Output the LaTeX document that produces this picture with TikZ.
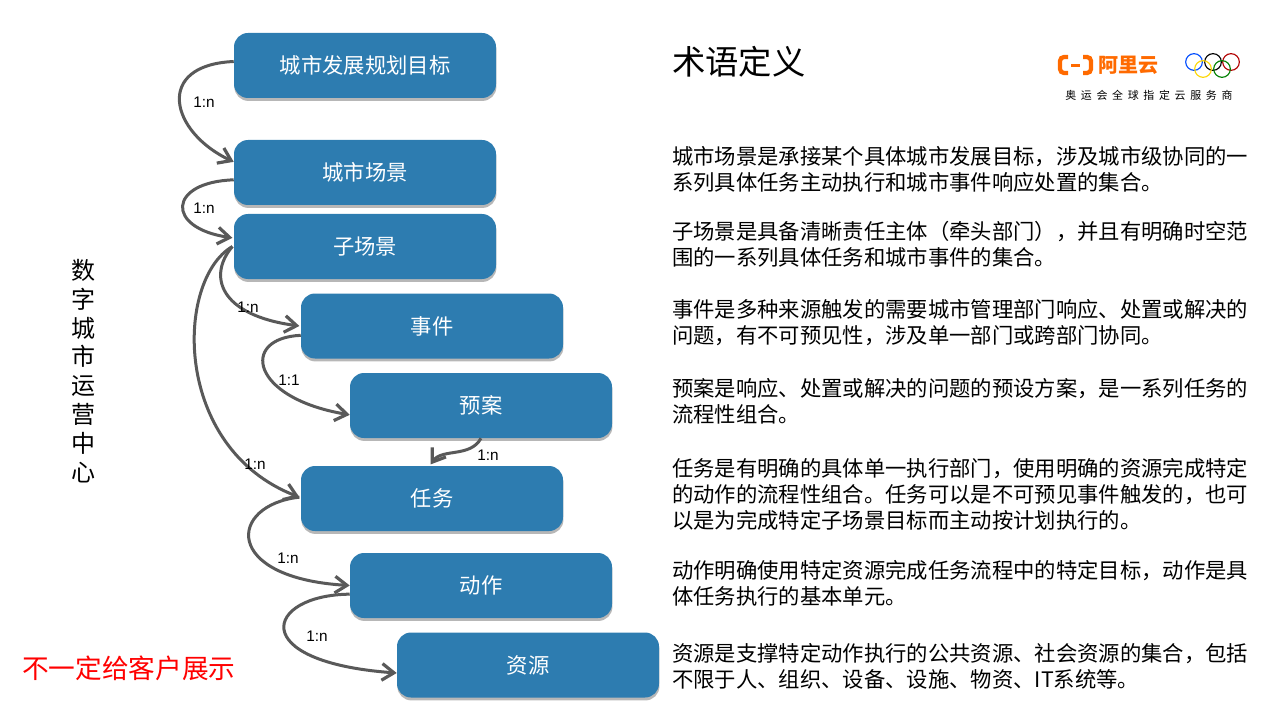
\documentclass[tikz,border=0pt]{standalone}
\usepackage{fontspec}
\setmainfont{Noto Sans CJK SC}
\newfontfamily\latinf{Liberation Sans}
\newfontfamily\capf[LetterSpace=43]{Noto Sans CJK SC}
\usetikzlibrary{arrows.meta,shadows}
\definecolor{boxblue}{RGB}{45,124,176}
\definecolor{linegrey}{RGB}{89,89,89}
\definecolor{aliorange}{RGB}{255,106,0}
\tikzset{
  box/.style={draw=none,fill=boxblue,rounded corners=10.5pt,minimum width=196.5pt,minimum height=48.75pt,inner sep=0pt,
    text=white,font=\fontsize{16}{18}\selectfont,
    drop shadow={shadow xshift=0.3pt,shadow yshift=-2.2pt,opacity=.4,fill=black!70}},
  link/.style={draw=linegrey,line width=2.25pt,-{Straight Barb[length=9pt,width=12.5pt,line width=2.4pt]}},
  rel/.style={font=\latinf\fontsize{11.5}{13}\selectfont,text=black,inner sep=0pt},
  para/.style={anchor=west,align=left,inner sep=0pt,text=black,font=\fontsize{16}{19.5}\selectfont},
  ring/.style={draw,line width=.85pt,circle,minimum size=12.5pt,inner sep=0pt}
}
\begin{document}
\begin{tikzpicture}[x=0.75pt,y=-0.75pt]
\useasboundingbox (0,0) rectangle (1280,720);
\node[box] (goal) at (365,65.5) {城市发展规划目标};
\node[box] (scene) at (365,172.5) {城市场景};
\node[box] (sub) at (365,246.5) {子场景};
\node[box] (event) at (432,326) {事件};
\node[box] (plan) at (481,405.5) {预案};
\node[box] (task) at (432,498.5) {任务};
\node[box] (action) at (481,585.5) {动作};
\node[box] (res) at (528,665) {资源};

\draw[link] ([yshift=3pt]goal.west) .. controls (154,65) and (170,132) .. ([yshift=8pt]scene.west);
\draw[link] ([yshift=-5.5pt]scene.west) .. controls (168,182) and (165,228) .. ([xshift=-1pt,yshift=6.5pt]sub.west);
\draw[link] ([xshift=-1pt]sub.west) .. controls (208,275) and (218,315) .. ([xshift=-1pt]event.west);
\draw[link] ([xshift=-1pt]sub.west) .. controls (175,280) and (172,448) .. ([xshift=-1pt,yshift=1pt]task.west);
\draw[link] ([yshift=-7pt]event.west) .. controls (240,338) and (250,398) .. ([yshift=-7pt]plan.west);
\draw[link] (plan.south) .. controls (470,458) and (442,448) .. ([xshift=-1pt,yshift=1pt]task.north);
\draw[link] ([xshift=-1pt,yshift=1pt]task.west) .. controls (228,505) and (222,578) .. (action.west);
\draw[link] ([yshift=-6.5pt]action.west) .. controls (265,595) and (245,662) .. ([yshift=-6pt]res.west);

\node[rel] (r1) at (204,102) {1:n};
\node[rel] (r2) at (204,208) {1:n};
\node[rel] (r3) at (248,307) {1:n};
\node[rel] (r4) at (289,380) {1:1};
\node[rel] (r5) at (488,455) {1:n};
\node[rel] (r6) at (255,464) {1:n};
\node[rel] (r7) at (288,558) {1:n};
\node[rel] (r8) at (317,636) {1:n};

\node[anchor=north,align=center,inner sep=0pt,font=\fontsize{18}{21.6}\selectfont] (side) at (83,259) {数\\字\\城\\市\\运\\营\\中\\心};
\node[anchor=west,inner sep=0pt,text=red,font=\fontsize{20}{24}\selectfont] (note) at (22,668) {不一定给客户展示};
\node[anchor=west,inner sep=0pt,font=\fontsize{25}{30}\selectfont] (title) at (672,62) {术语定义};

\node[para] (p1) at (672,169) {城市场景是承接某个具体城市发展目标，涉及城市级协同的一\\系列具体任务主动执行和城市事件响应处置的集合。};
\node[para] (p2) at (672,244) {子场景是具备清晰责任主体（牵头部门），并且有明确时空范\\围的一系列具体任务和城市事件的集合。};
\node[para] (p3) at (672,323) {事件是多种来源触发的需要城市管理部门响应、处置或解决的\\问题，有不可预见性，涉及单一部门或跨部门协同。};
\node[para] (p4) at (672,401) {预案是响应、处置或解决的问题的预设方案，是一系列任务的\\流程性组合。};
\node[para] (p5) at (672,494) {任务是有明确的具体单一执行部门，使用明确的资源完成特定\\的动作的流程性组合。任务可以是不可预见事件触发的，也可\\以是为完成特定子场景目标而主动按计划执行的。};
\node[para] (p6) at (672,583) {动作明确使用特定资源完成任务流程中的特定目标，动作是具\\体任务执行的基本单元。};
\node[para] (p7) at (672,666) {资源是支撑特定动作执行的公共资源、社会资源的集合，包括\\不限于人、组织、设备、设施、物资、IT系统等。};

% logo
\draw[aliorange,line width=3.2pt,rounded corners=3pt] (1068,57) -- (1060,57) -- (1060,73) -- (1068,73);
\draw[aliorange,line width=3.2pt,rounded corners=3pt] (1083,57) -- (1091,57) -- (1091,73) -- (1083,73);
\draw[aliorange,line width=1.8pt] (1071,65.5) -- (1080,65.5);
\node[anchor=west,inner sep=0pt,text=aliorange,font=\bfseries\fontsize{15}{18}\selectfont] (ali) at (1098,65) {阿里云};
\node[ring,draw=blue!70!cyan] (o1) at (1194,62) {};
\node[ring,draw=black] (o2) at (1213,62) {};
\node[ring,draw=red!70!black] (o3) at (1231,62) {};
\node[ring,draw=yellow!75!orange] (o4) at (1203,69) {};
\node[ring,draw=green!50!black] (o5) at (1222,69) {};
\node[anchor=west,inner sep=0pt,font=\capf\fontsize{8.2}{10}\selectfont] (cap) at (1065,95) {奥运会全球指定云服务商};
\end{tikzpicture}
\end{document}
